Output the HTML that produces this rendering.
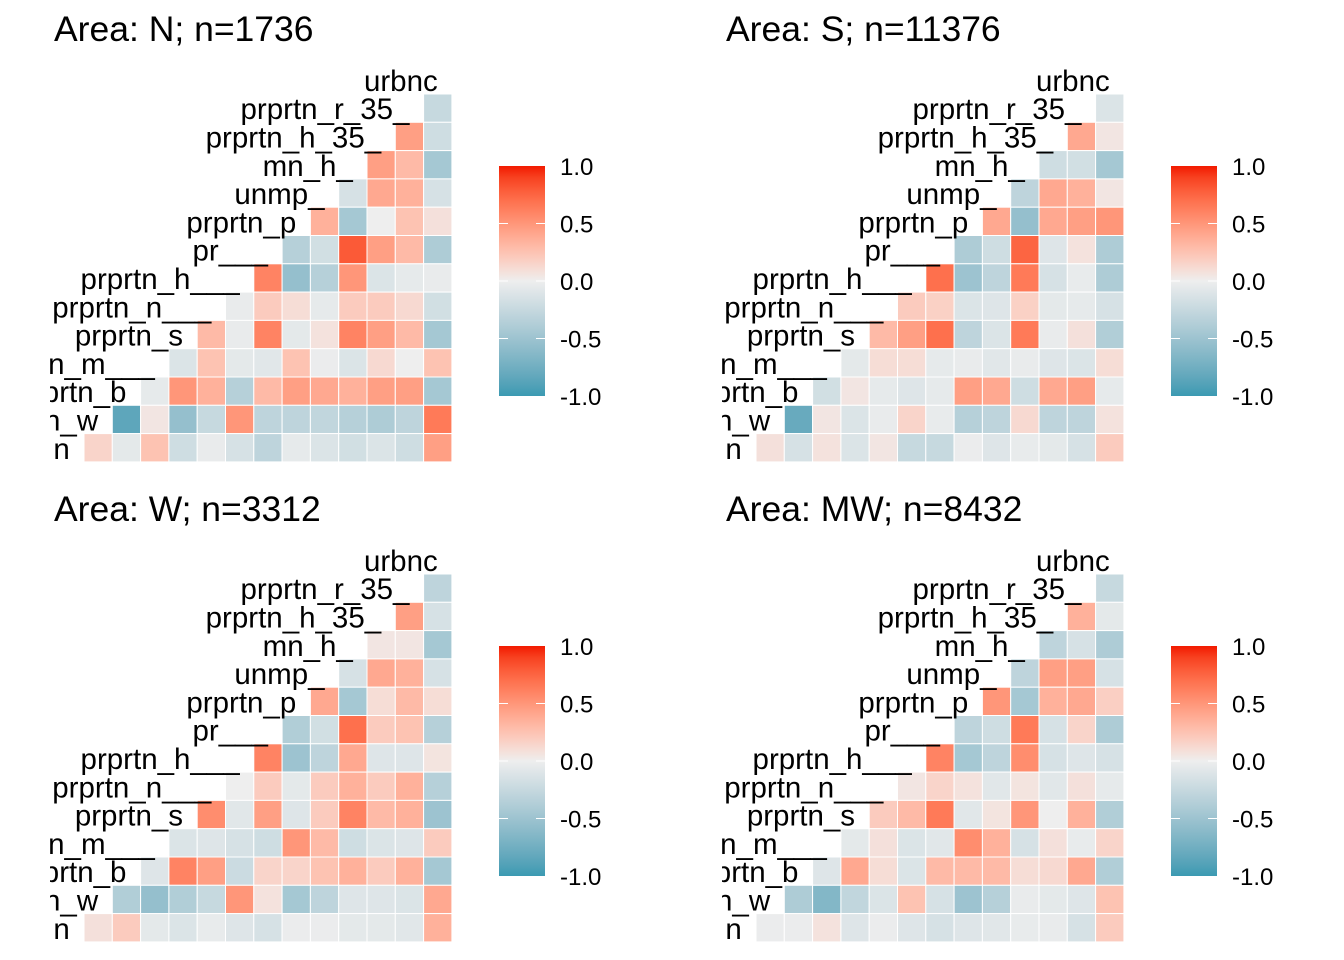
<!DOCTYPE html>
<html><head><meta charset="utf-8">
<style>
html,body{margin:0;padding:0;background:#fff;}
svg{display:block;font-family:"Liberation Sans",sans-serif;}
</style></head>
<body>
<svg id="chart" width="1344" height="960" viewBox="0 0 1344 960">
<defs>
<linearGradient id="lg" x1="0" y1="1" x2="0" y2="0"></linearGradient>
<clipPath id="clipL"><rect x="50" y="0" width="622" height="960"/></clipPath>
<clipPath id="clipR"><rect x="722" y="0" width="622" height="960"/></clipPath>
</defs>
</svg>
<script>
const varLabels = ["urbnc","prprtn_r_35_","prprtn_h_35_","mn_h_","unmp_","prprtn_p","pr___","prprtn_h___","prprtn_n___","prprtn_s","n_m___","prtn_b","n_w","n"];
const panelTitles = ["Area: N; n=1736","Area: S; n=11376","Area: W; n=3312","Area: MW; n=8432"];
const legendTicks = [1.0,0.5,0.0,-0.5,-1.0];
const corrN = [
[-0.25],
[0.45,-0.2],
[0.45,0.3,-0.45],
[-0.15,0.4,0.35,-0.15],
[0.35,-0.45,0.0,0.25,0.08],
[-0.35,-0.18,0.8,0.45,0.3,-0.4],
[0.6,-0.55,-0.35,0.5,-0.12,-0.05,-0.03],
[-0.03,0.2,0.1,-0.05,0.2,0.2,0.12,-0.18],
[0.3,-0.03,0.6,-0.06,0.07,0.6,0.45,0.3,-0.45],
[-0.12,0.25,-0.06,-0.08,0.25,-0.02,-0.12,0.12,0.0,0.25],
[-0.05,0.5,0.35,-0.35,0.3,0.45,0.4,0.35,0.45,0.45,-0.45],
[-0.85,0.05,-0.55,-0.25,0.5,-0.3,-0.3,-0.28,-0.35,-0.4,-0.3,0.65],
[0.15,-0.06,0.25,-0.2,-0.03,-0.15,-0.3,-0.05,-0.12,-0.18,-0.12,-0.2,0.45]];
const corrS = [
[-0.12],
[0.4,0.05],
[-0.2,-0.18,-0.45],
[-0.3,0.4,0.35,0.05],
[0.4,-0.55,0.4,0.45,0.5],
[-0.4,-0.2,0.75,-0.1,0.07,-0.4],
[0.7,-0.5,-0.3,0.65,-0.15,-0.04,-0.4],
[0.2,0.17,-0.12,-0.1,0.17,-0.06,-0.05,-0.15],
[0.3,0.45,0.7,-0.3,-0.12,0.65,-0.03,0.08,-0.38],
[-0.06,0.1,0.1,-0.05,-0.03,-0.08,-0.03,-0.1,-0.12,0.1],
[-0.18,0.05,-0.05,-0.1,-0.05,0.45,0.4,-0.2,0.4,0.45,-0.05],
[-0.8,0.05,-0.12,-0.03,0.15,-0.04,-0.35,-0.3,0.12,-0.3,-0.3,0.07],
[0.08,-0.15,0.07,-0.12,0.05,-0.25,-0.25,-0.02,-0.1,-0.04,-0.06,-0.15,0.2]];
const corrW = [
[-0.3],
[0.45,-0.15],
[0.05,0.05,-0.45],
[-0.15,0.4,0.35,-0.15],
[0.4,-0.45,0.1,0.3,0.1],
[-0.38,-0.18,0.7,0.2,0.25,-0.35],
[0.6,-0.5,-0.3,0.4,-0.1,-0.1,0.06],
[0.0,0.2,-0.06,0.2,0.35,0.2,0.35,-0.35],
[0.55,-0.08,0.45,-0.1,0.2,0.6,0.3,0.35,-0.5],
[-0.12,-0.1,-0.15,-0.2,0.5,0.3,-0.2,-0.12,-0.1,0.2],
[-0.1,0.6,0.45,-0.22,0.15,0.15,0.25,0.35,0.2,0.35,-0.45],
[-0.38,-0.55,-0.38,-0.25,0.5,0.07,-0.45,-0.3,-0.1,-0.1,-0.12,0.4],
[0.08,0.2,-0.06,-0.12,-0.04,-0.1,-0.15,-0.02,-0.02,-0.06,-0.06,-0.08,0.35]];
const corrMW = [
[-0.25],
[0.35,-0.06],
[-0.3,-0.15,-0.4],
[-0.3,0.45,0.45,-0.15],
[0.5,-0.45,0.35,0.4,0.18],
[-0.3,-0.2,0.65,-0.15,0.15,-0.4],
[0.6,-0.45,-0.3,0.55,-0.15,-0.1,-0.15],
[0.05,0.15,0.07,-0.08,0.06,-0.08,0.08,-0.05],
[0.2,0.3,0.65,-0.08,0.06,0.5,0.0,0.35,-0.38],
[-0.06,0.08,-0.12,-0.08,0.55,0.35,-0.15,0.08,-0.04,0.15],
[-0.1,0.4,0.1,-0.12,0.3,0.3,0.3,0.1,0.12,0.4,-0.38],
[-0.4,-0.65,-0.28,-0.12,0.25,-0.15,-0.5,-0.35,-0.03,-0.06,-0.1,0.25],
[-0.02,-0.02,0.07,-0.1,-0.02,-0.1,-0.15,-0.1,-0.08,-0.04,-0.03,-0.15,0.2]];
const panelData = [corrN, corrS, corrW, corrMW];

const NS = "http://www.w3.org/2000/svg";
const svg = document.getElementById('chart');
const CELL = 28.3, N = 13;
function mk(tag, attrs, parent){const e=document.createElementNS(NS,tag);for(const k in attrs)e.setAttribute(k,attrs[k]);parent.appendChild(e);return e;}
function s2l(c){c/=255;return c<=0.04045?c/12.92:Math.pow((c+0.055)/1.055,2.4);}
function l2s(c){c=c<=0.0031308?12.92*c:1.055*Math.pow(c,1/2.4)-0.055;return Math.max(0,Math.min(255,Math.round(c*255)));}
function toLab(rgb){const [r,g,b]=rgb.map(s2l);let x=(r*0.4124+g*0.3576+b*0.1805)/0.95047,y=r*0.2126+g*0.7152+b*0.0722,z=(r*0.0193+g*0.1192+b*0.9505)/1.08883;const f=t=>t>0.008856?Math.cbrt(t):7.787*t+16/116;const fx=f(x),fy=f(y),fz=f(z);return [116*fy-16,500*(fx-fy),200*(fy-fz)];}
function fromLab(l){const fy=(l[0]+16)/116,fx=fy+l[1]/500,fz=fy-l[2]/200;const fi=t=>t*t*t>0.008856?t*t*t:(t-16/116)/7.787;const x=fi(fx)*0.95047,y=fi(fy),z=fi(fz)*1.08883;const r=x*3.2406-y*1.5372-z*0.4986,g=-x*0.9689+y*1.8758+z*0.0415,b=x*0.0557-y*0.2040+z*1.0570;return [l2s(r),l2s(g),l2s(b)];}
const LO=toLab([59,154,178]), MID=toLab([238,238,238]), HI=toLab([242,26,0]);
function color(v){
  const t=Math.max(-1,Math.min(1,v));
  const [a,b,u] = t<0 ? [MID,LO,-t] : [MID,HI,t];
  const c=fromLab([0,1,2].map(i=>a[i]+(b[i]-a[i])*u));
  return `rgb(${c[0]},${c[1]},${c[2]})`;
}
const grad=document.getElementById('lg');
for(let i=0;i<=20;i++){const v=-1+i/10;mk('stop',{offset:i/20,'stop-color':color(v)},grad);}
const slug=["n","s","w","mw"];
panelData.forEach((data,p)=>{
  const ox = (p%2)*672, oy = Math.floor(p/2)*480;
  const gx = 84+ox, gy = 94+oy;
  const xPos = c => gx + c*CELL;
  const yPos = r => gy + r*CELL;
  const g = mk('g',{},svg);
  
  
  const t = mk('text',{x:54+ox,y:41+oy,'font-size':35.5,fill:'#000'},g);
  t.textContent = panelTitles[p];
  
  
  const cells = mk('g',{},g);
  
  
  data.forEach((row,r)=>{
    row.forEach((v,j)=>{
      const c = (N-1-r)+j;
      const rc = mk('rect',{x:xPos(c),y:yPos(r),width:CELL,height:CELL,fill:color(v),stroke:'#fff','stroke-width':1},cells);
      
      
    });
  });
  const lab = mk('g',{'clip-path': p%2? 'url(#clipR)':'url(#clipL)'},g);
  varLabels.forEach((name,k)=>{
    const tx = xPos(N-1-k+0.5), ty = yPos(k-0.5)+11;
    const e = mk('text',{x:tx,y:ty,'text-anchor':'end','font-size':29.5,fill:'#000'},lab);
    e.textContent = name;
    
    
  });
  const lg = mk('g',{},g);
  
  
  const ly0 = 166+oy, ly1 = 396+oy, lx = 499+ox;
  const yLeg = v => ly1 - (v+1)/2*(ly1-ly0);
  mk('rect',{x:lx,y:ly0,width:46,height:ly1-ly0,fill:'url(#lg)'},lg);
  legendTicks.forEach(v=>{
    const y=yLeg(v);
    if(Math.abs(v)<1){
      mk('line',{x1:lx,x2:lx+9,y1:y,y2:y,stroke:'#fff','stroke-width':1},lg);
      mk('line',{x1:lx+37,x2:lx+46,y1:y,y2:y,stroke:'#fff','stroke-width':1},lg);
    }
    const e=mk('text',{x:560+ox,y:y+9,'font-size':24,fill:'#000'},lg);
    e.textContent = v.toFixed(1);
    
    
  });
});
</script>
</body></html>
